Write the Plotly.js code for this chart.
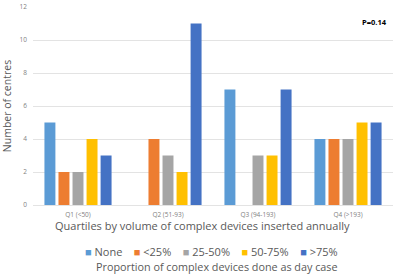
<!DOCTYPE html>
<html>
<head>
<meta charset="utf-8">
<script src="https://cdn.plot.ly/plotly-3.0.1.min.js"></script>
<style>
  html, body { margin: 0; padding: 0; background: #fff; }
  #chart { width: 400px; height: 277px; }
</style>
</head>
<body>
<div id="chart"></div>
<script>
// Quartiles of centre volume (complex devices inserted per year)
const quartiles = ["Q1 (<50)", "Q2 (51-93)", "Q3 (94-193)", "Q4 (>193)"];

// Share of complex devices done as day case
const seriesNames = ["None", "<25%", "25-50%", "50-75%", ">75%"];
const seriesColors = ["#5B9BD5", "#ED7D31", "#A5A5A5", "#FFC000", "#4472C4"];

// Number of centres in each quartile, per day-case band
const noneCounts   = [5, 0, 7, 4];
const under25      = [2, 4, 0, 4];
const from25to50   = [2, 3, 3, 4];
const from50to75   = [4, 2, 3, 5];
const over75       = [3, 11, 7, 5];

const seriesValues = [noneCounts, under25, from25to50, from50to75, over75];

const yTicks = [0, 2, 4, 6, 8, 10, 12];

const FONT = "Open Sans, Liberation Sans, sans-serif";

const traces = seriesNames.map((name, i) => ({
  type: "bar",
  name: name,
  x: quartiles,
  y: seriesValues[i],
  marker: { color: seriesColors[i] },
  hoverinfo: "x+y+name"
}));

// Legend row built from the series names and colours
const legendText = seriesNames.map((n, i) =>
  `<span style="color:${seriesColors[i]}">■</span> ${n}`
).join("&nbsp;&nbsp;&nbsp;&nbsp;");

const layout = {
  width: 400,
  height: 277,
  margin: { l: 33, r: 7, t: 7, b: 72 },
  paper_bgcolor: "#ffffff",
  plot_bgcolor: "#ffffff",
  font: { family: FONT, color: "#595959" },
  showlegend: false,
  barmode: "group",
  bargap: 0.22,
  bargroupgap: 0.22,
  xaxis: {
    type: "category",
    tickfont: { size: 6.5, color: "#7F7F7F" },
    ticks: "",
    ticklabelstandoff: 4,
    showline: false,
    showgrid: false
  },
  yaxis: {
    range: [0, 12],
    tickvals: yTicks,
    ticktext: yTicks.map(String),
    tickfont: { size: 6.5, color: "#7F7F7F" },
    ticklabelstandoff: 5,
    gridcolor: "#E3E3E3",
    gridwidth: 1,
    zeroline: true,
    zerolinecolor: "#E3E3E3",
    zerolinewidth: 1,
    showline: false,
    ticks: "",
    ticklen: 0,
    title: {
      text: "Number of centres",
      font: { size: 10.5, color: "#595959" },
      standoff: 6
    }
  },
  annotations: [
    {
      text: "Quartiles by volume of complex devices inserted annually",
      xref: "paper", yref: "paper",
      x: 0.47, y: -0.106,
      xanchor: "center", yanchor: "middle",
      showarrow: false,
      font: { size: 11, color: "#595959", family: FONT }
    },
    {
      text: "<b>P=0.14</b>",
      xref: "paper", yref: "paper",
      x: 0.99, y: 0.925,
      xanchor: "right", yanchor: "middle",
      showarrow: false,
      font: { size: 7.5, color: "#000000", family: FONT }
    },
    {
      text: legendText,
      xref: "paper", yref: "paper",
      x: 0.495, y: -0.237,
      xanchor: "center", yanchor: "middle",
      showarrow: false,
      font: { size: 11, color: "#595959", family: FONT }
    },
    {
      text: "Proportion of complex devices done as day case",
      xref: "paper", yref: "paper",
      x: 0.51, y: -0.313,
      xanchor: "center", yanchor: "middle",
      showarrow: false,
      font: { size: 10.8, color: "#595959", family: FONT }
    }
  ]
};

Plotly.newPlot("chart", traces, layout, { displayModeBar: false, staticPlot: true });
</script>
</body>
</html>
